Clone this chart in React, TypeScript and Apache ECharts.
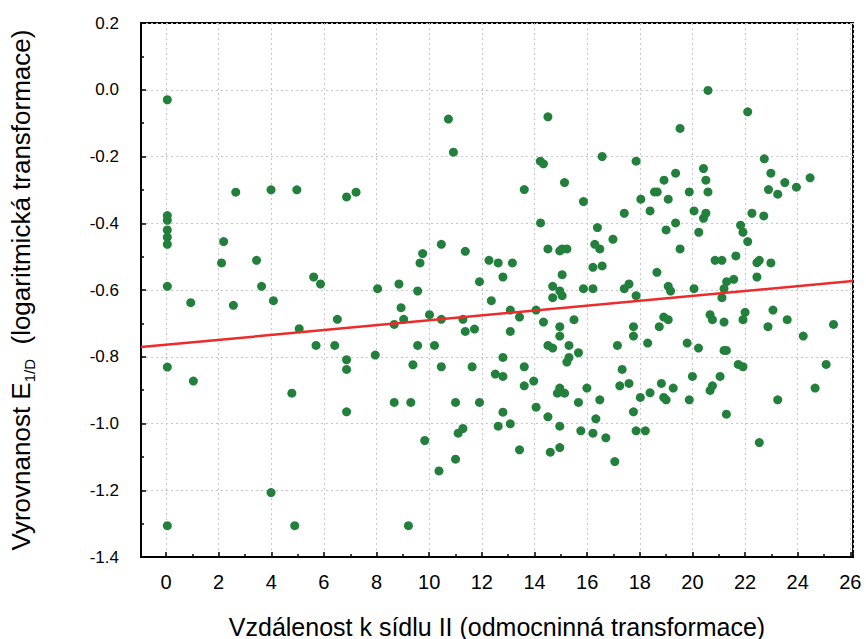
import React, { useEffect, useRef } from "react";
import * as echarts from "echarts";

const xTickValues = [0, 2, 4, 6, 8, 10, 12, 14, 16, 18, 20, 22, 24, 26];
const xLabel = "Vzdálenost k sídlu II (odmocninná transformace)";
const yLabelMain = "Vyrovnanost E";
const yLabelSub = "1/D";
const yLabelRest = "  (logaritmická transformace)";

// scatter points: [x, y]
const pointsLeft: number[][] = [
  [0.05, -0.03], [0.05, -0.377], [0.05, -0.391], [0.05, -0.42], [0.05, -0.442], [0.05, -0.463],
  [0.05, -0.589], [2.19, -0.455], [2.11, -0.519], [2.65, -0.307], [3.44, -0.511], [3.63, -0.589],
  [3.99, -0.3], [4.97, -0.3], [4.08, -0.632], [5.61, -0.561], [5.87, -0.582], [6.86, -0.321],
  [7.22, -0.307], [0.94, -0.638], [2.56, -0.646], [6.51, -0.688], [5.06, -0.716], [5.7, -0.766],
  [6.41, -0.766], [6.86, -0.809], [6.86, -0.838], [6.86, -0.965], [0.05, -0.831], [1.04, -0.873],
  [4.78, -0.909], [3.99, -1.207], [0.05, -1.306], [4.89, -1.306],
];

const pointsMiddle: number[][] = [
  [10.73, -0.088], [10.92, -0.187], [14.51, -0.081], [14.22, -0.214], [14.34, -0.222], [15.14, -0.278],
  [13.61, -0.299], [15.86, -0.335], [16.57, -0.2], [14.23, -0.399], [16.39, -0.413], [10.46, -0.463],
  [9.75, -0.491], [9.65, -0.519], [11.37, -0.484], [12.27, -0.511], [12.62, -0.519], [13.16, -0.519],
  [12.8, -0.561], [11.91, -0.575], [14.51, -0.477], [14.96, -0.483], [15.05, -0.477], [15.23, -0.477],
  [16.29, -0.463], [16.48, -0.477], [16.22, -0.532], [16.57, -0.528], [15.05, -0.554], [14.69, -0.589],
  [14.96, -0.603], [15.05, -0.617], [14.69, -0.623], [15.86, -0.596], [16.22, -0.596], [8.04, -0.596],
  [8.85, -0.582], [9.56, -0.603], [12.36, -0.632],
  [8.93, -0.653], [8.67, -0.703], [9.03, -0.688], [10.01, -0.674], [10.46, -0.688], [11.28, -0.688],
  [11.37, -0.724], [11.72, -0.717], [13.08, -0.66], [13.08, -0.724], [13.43, -0.681], [14.06, -0.66],
  [14.34, -0.696], [14.96, -0.71], [14.96, -0.738], [15.5, -0.689], [15.31, -0.766], [14.51, -0.766],
  [14.69, -0.774], [7.95, -0.795], [9.56, -0.766], [10.2, -0.766], [9.38, -0.824], [10.46, -0.83],
  [11.63, -0.83], [12.8, -0.802], [12.51, -0.852], [12.8, -0.859], [13.61, -0.83], [13.61, -0.887],
  [13.97, -0.873], [15.31, -0.802], [15.23, -0.816], [15.67, -0.788], [14.96, -0.894], [14.87, -0.909],
  [15.14, -0.909], [15.99, -0.894], [16.48, -0.929], [15.67, -0.937], [8.67, -0.937], [9.3, -0.937],
  [11.0, -0.937], [11.91, -0.937], [14.06, -0.951], [12.8, -0.966], [14.51, -0.98], [12.62, -1.008],
  [13.08, -1.001], [14.96, -1.008], [16.33, -0.986], [15.76, -1.022], [16.22, -1.029], [16.71, -1.043],
  [11.28, -1.015], [11.1, -1.029], [9.83, -1.051], [11.0, -1.107], [10.37, -1.142], [13.43, -1.079],
  [14.6, -1.086], [14.96, -1.072], [9.21, -1.306],
];

const pointsRight: number[][] = [
  [20.59, -0.002], [22.1, -0.066], [19.53, -0.116], [17.86, -0.214], [22.73, -0.207], [20.42, -0.236],
  [22.98, -0.25], [19.36, -0.25], [18.92, -0.271], [20.51, -0.271], [23.51, -0.278], [24.47, -0.264],
  [23.95, -0.292], [22.89, -0.299], [23.24, -0.313], [18.56, -0.306], [18.66, -0.306], [19.88, -0.306],
  [20.59, -0.306], [18.04, -0.328], [19.08, -0.328], [17.41, -0.37], [18.39, -0.363], [20.06, -0.363],
  [20.51, -0.37], [20.42, -0.385], [22.26, -0.37], [22.71, -0.378], [19.36, -0.399], [19.0, -0.42],
  [20.24, -0.427], [21.83, -0.406], [21.92, -0.427], [22.1, -0.455], [16.98, -0.448], [19.53, -0.477],
  [20.86, -0.511], [21.12, -0.511], [21.65, -0.498], [22.45, -0.518], [22.54, -0.511], [22.98, -0.519],
  [18.65, -0.547], [22.45, -0.561], [21.57, -0.568], [21.3, -0.575], [21.2, -0.596], [21.12, -0.623],
  [20.06, -0.596], [19.08, -0.589], [19.17, -0.603], [17.59, -0.582], [17.41, -0.596], [17.86, -0.617],
  [20.67, -0.674], [20.76, -0.689], [21.2, -0.696], [22.0, -0.667], [21.92, -0.689], [23.06, -0.66],
  [23.6, -0.689], [22.87, -0.71], [25.36, -0.703], [24.21, -0.738], [18.91, -0.681], [19.08, -0.689],
  [18.74, -0.71], [17.76, -0.71], [17.76, -0.738], [18.3, -0.759], [17.15, -0.766], [19.8, -0.759],
  [20.23, -0.774], [21.2, -0.781], [21.29, -0.781], [21.74, -0.823], [21.92, -0.83], [25.08, -0.823],
  [17.33, -0.838], [17.24, -0.887], [17.59, -0.88], [20.0, -0.859], [21.05, -0.859], [20.76, -0.887],
  [20.67, -0.901], [18.82, -0.88], [19.27, -0.894], [18.91, -0.922], [19.0, -0.929], [18.02, -0.922],
  [18.39, -0.908], [19.88, -0.929], [23.24, -0.929], [24.66, -0.894], [17.76, -0.965], [21.29, -0.972],
  [17.86, -1.022], [18.21, -1.022], [17.05, -1.114], [22.54, -1.057],
];

// regression line endpoints
const fitLine: number[][] = [
  [-0.95, -0.771],
  [26.1, -0.573],
];

const X_MIN = -0.95;
const X_MAX = 26.1;
const Y_MIN = -1.4;
const Y_MAX = 0.2;

const FONT = "'Liberation Sans', Arial, sans-serif";

export default function App() {
  const ref = useRef<HTMLDivElement>(null);
  useEffect(() => {
    if (!ref.current) return;
    const chart = echarts.init(ref.current, null, { renderer: "svg" });
    const allPoints = [...pointsLeft, ...pointsMiddle, ...pointsRight];
    chart.setOption({
      animation: false,
      backgroundColor: "#ffffff",
      textStyle: { fontFamily: FONT },
      grid: {
        left: 141,
        top: 23,
        right: 13,
        bottom: 82,
        show: true,
        borderColor: "#000",
        borderWidth: 2,
        containLabel: false,
        outerBoundsMode: "none",
      },
      xAxis: {
        type: "value",
        min: X_MIN,
        max: X_MAX,
        splitNumber: 14,
        name: xLabel,
        nameLocation: "middle",
        nameGap: 57,
        nameTextStyle: { fontSize: 25, color: "#000", fontFamily: FONT },
        axisLine: { show: true, onZero: false, lineStyle: { color: "#000", width: 2 } },
        axisTick: { show: true, inside: true, length: 5, lineStyle: { color: "#000", width: 1.5 } },
        minorTick: { show: true, splitNumber: 2, length: 3, lineStyle: { color: "#000", width: 1.5 } },
        axisLabel: {
          show: true,
          showMinLabel: false,
          showMaxLabel: true,
          margin: 15,
          fontSize: 20,
          color: "#000",
          fontFamily: FONT,
          formatter: (v: number) => (xTickValues.indexOf(v) >= 0 ? String(v) : ""),
        },
        splitLine: { show: true, lineStyle: { color: "#c8c8c8", type: [2, 3], width: 1 } },
      },
      yAxis: {
        type: "value",
        min: Y_MIN,
        max: Y_MAX,
        interval: 0.2,
        name: `{a|${yLabelMain}}{s|${yLabelSub}}{a|${yLabelRest}}`,
        nameLocation: "middle",
        nameGap: 104,
        nameTextStyle: {
          color: "#000",
          rich: {
            a: { fontSize: 26, fontFamily: FONT, color: "#000", lineHeight: 32, verticalAlign: "middle" },
            s: { fontSize: 15, fontFamily: FONT, color: "#000", lineHeight: 32, verticalAlign: "bottom" },
          },
        },
        axisLine: { show: true, onZero: false, lineStyle: { color: "#000", width: 2 } },
        axisTick: { show: true, inside: true, length: 5, lineStyle: { color: "#000", width: 1.5 } },
        minorTick: { show: true, splitNumber: 2, length: 3, lineStyle: { color: "#000", width: 1.5 } },
        axisLabel: {
          show: true,
          margin: 22,
          fontSize: 17,
          color: "#000",
          fontFamily: FONT,
          formatter: (v: number) => v.toFixed(1),
        },
        splitLine: { show: true, lineStyle: { color: "#c8c8c8", type: [2, 3], width: 1 } },
      },
      series: [
        {
          type: "scatter",
          data: allPoints,
          symbol: "circle",
          symbolSize: 9,
          itemStyle: { color: "#22803c", opacity: 1 },
          z: 3,
        },
        {
          type: "line",
          data: fitLine,
          symbol: "none",
          lineStyle: { color: "#ee2a2a", width: 2.5 },
          z: 4,
        },
      ],
    });
    return () => chart.dispose();
  }, []);
  return (
    <div
      ref={ref}
      style={{ position: "fixed", left: 0, top: 0, width: 866, height: 639, background: "#fff" }}
    />
  );
}
